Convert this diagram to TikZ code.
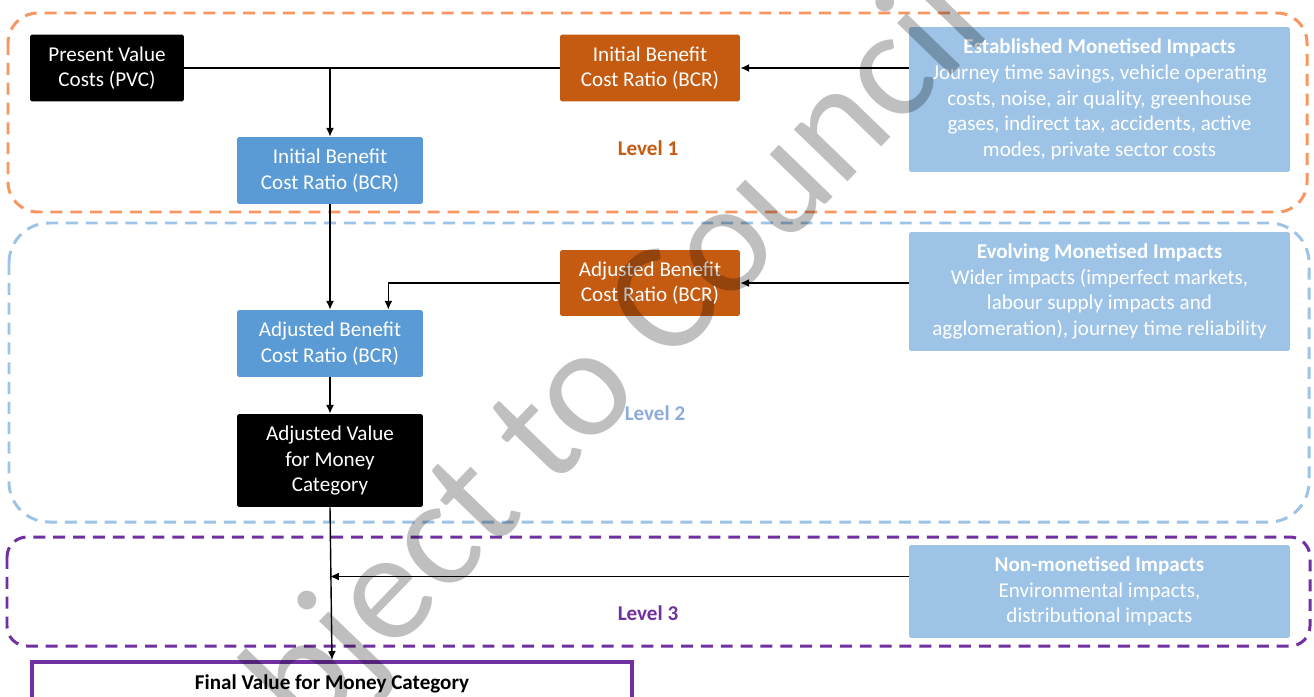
\documentclass[tikz,border=0pt]{standalone}
\usepackage{fontspec}
\setmainfont{Carlito}
\usepackage{tikz}
\usetikzlibrary{arrows.meta}
\definecolor{vfmorange}{RGB}{197, 90, 17}
\definecolor{vfmblue}{RGB}{91, 155, 213}
\definecolor{vfmlight}{RGB}{157, 195, 230}
\definecolor{vfmpurple}{RGB}{112, 48, 160}
\definecolor{vfmdash}{RGB}{248, 150, 95}
\definecolor{vfmlevel}{RGB}{143, 170, 220}

\begin{document}
\begin{tikzpicture}[x=0.02cm, y=-0.02cm, every node/.style={font=\fontsize{12}{14.6}\selectfont, align=center},
    box/.style={rounded corners=1pt, minimum height=1.34cm, text=white, inner sep=2pt},
    darkbox/.style={box, fill=black, minimum width=3.08cm},
    bluebox/.style={box, fill=vfmblue, minimum width=3.72cm},
    orangebox/.style={box, fill=vfmorange, minimum width=3.6cm},
    impactbox/.style={box, fill=vfmlight, minimum width=7.62cm},
    levelbox/.style={line width=1.7pt, dash pattern=on 6.8pt off 4.5pt},
    leveltext/.style={font=\fontsize{12}{14}\selectfont\bfseries},
    flow/.style={-{Latex[length=5pt,width=4.5pt]}, line width=0.8pt},
    watermark/.style={rotate=46, text=black, text opacity=0.25, font=\fontsize{89}{89}\selectfont, anchor=base west}]
        \useasboundingbox (0,0) rectangle (1314,696);
        \clip (0,0) rectangle (1314,696);
        % level frames
        \draw[levelbox, draw=vfmdash, rounded corners=0.6cm] (8,13) rectangle (1307,212);
        \draw[levelbox, draw=vfmlight, rounded corners=0.8cm] (9,223) rectangle (1309,522);
        \draw[levelbox, draw=vfmpurple, rounded corners=0.4cm] (7,537) rectangle (1310,646);
        \node[leveltext, text=vfmorange] (lvlone) at (648,148) {Level 1};
        \node[leveltext, text=vfmlevel] (lvltwo) at (655,413) {Level 2};
        \node[leveltext, text=vfmpurple] (lvlthree) at (648,613) {Level 3};
        % boxes
        \node[darkbox] (pvc) at (107,68) {Present Value\\Costs (PVC)};
        \node[orangebox] (obcr) at (650,68) {Initial Benefit\\Cost Ratio (BCR)};
        \node[bluebox] (ibcr) at (330,170.5) {Initial Benefit\\Cost Ratio (BCR)};
        \node[orangebox, minimum height=1.32cm] (oabcr) at (650,283) {Adjusted Benefit\\Cost Ratio (BCR)};
        \node[bluebox] (abcr) at (330,343.5) {Adjusted Benefit\\Cost Ratio (BCR)};
        \node[darkbox, minimum width=3.72cm, minimum height=1.86cm] (avfm) at (330,460.5) {Adjusted Value\\for Money\\Category};
        \node[impactbox, minimum height=2.9cm] (emi) at (1099.5,99.5) {\textbf{Established Monetised Impacts}\\Journey time savings, vehicle operating\\costs, noise, air quality, greenhouse\\gases, indirect tax, accidents, active\\modes, private sector costs};
        \node[impactbox, minimum height=2.38cm] (evmi) at (1099.5,291.5) {\textbf{Evolving Monetised Impacts}\\Wider impacts (imperfect markets,\\labour supply impacts and\\agglomeration), journey time reliability};
        \node[impactbox, minimum height=1.86cm] (nmi) at (1099.5,591.5) {\textbf{Non-monetised Impacts}\\Environmental impacts,\\distributional impacts};
        \node[draw=vfmpurple, line width=2.3pt, minimum width=12cm, anchor=north, inner ysep=6.5pt, text height=9pt, text depth=40pt, font=\fontsize{12}{14}\selectfont\bfseries] (final) at (332,660) {Final Value for Money Category};
        % connectors
        \coordinate (pvcdrop) at (pvc.east -| ibcr.north);
        \coordinate (nmiout) at ([yshift=0.3cm]nmi.west);
        \draw[line width=0.8pt] (pvc.east) -- (obcr.west);
        \draw[flow] (pvcdrop) -- (ibcr.north);
        \draw[flow] (obcr.east -| emi.west) -- (obcr.east);
        \draw[flow] (ibcr.south) -- (abcr.north);
        \draw[flow] (oabcr.east -| evmi.west) -- (oabcr.east);
        \draw[flow] (oabcr.west) -| ([xshift=-0.7cm]abcr.north east);
        \draw[flow] (abcr.south) -- (avfm.north);
        \draw[flow] (avfm.south) -- (final.north);
        \draw[flow] (nmiout) -- (nmiout -| avfm.south);
        % watermark
        \node[watermark] (wm) at (196,857) {Subject to Council};
      \end{tikzpicture}
\end{document}
